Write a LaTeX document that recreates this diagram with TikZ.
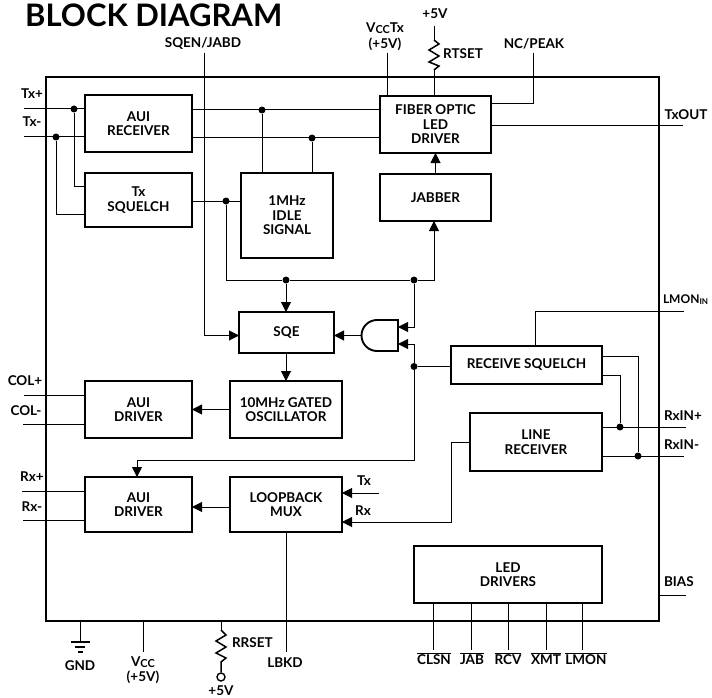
\documentclass[tikz,border=0pt]{standalone}
\usepackage{fontspec}
\setmainfont{Lato}[UprightFont=* Bold]
\usetikzlibrary{arrows.meta,calc}
\newcommand\ovl[1]{\vbox{\hrule height 0.9pt \kern 1.2pt \hbox{#1}}}
\newcommand\smallcaps[1]{{\fontsize{11}{11}\selectfont #1}}
\tikzset{
  x=1pt,y=-1pt,
  lbl/.style={inner sep=0pt,outer sep=0pt,font=\fontsize{13.5}{14.5}\selectfont,align=center},
  blockbox/.style={draw,line width=1.9pt,inner sep=0pt,outer sep=0pt,align=center,font=\fontsize{13.5}{14.5}\selectfont},
  wire/.style={line width=1pt},
  arrowwire/.style={line width=1pt,-{Triangle[length=10pt,width=10pt]}},
  junction/.style={circle,fill=black,inner sep=0pt,minimum size=7pt},
}
\newcommand\blk[6]{%
  \pgfmathsetmacro\bw{#4-#2}\pgfmathsetmacro\bh{#5-#3}%
  \pgfmathsetmacro\bx{(#2+#4)/2}\pgfmathsetmacro\by{(#3+#5)/2}%
  \node[blockbox,minimum width=\bw pt,minimum height=\bh pt] (#1) at (\bx,\by) {#6};}
\newcommand\dotat[3]{\node[junction] (#1) at (#2,#3) {};}
\begin{document}
\begin{tikzpicture}
\useasboundingbox (0,0) rectangle (712,698);
% outer package
\node[draw,line width=1.9pt,inner sep=0pt,outer sep=0pt,minimum width=613pt,minimum height=544pt] (chip) at (352.5,349) {};
% blocks
\blk{auirx}{85}{95}{192}{152}{AUI\\RECEIVER}
\blk{txsq}{85}{173}{192}{227}{Tx\\SQUELCH}
\blk{idle}{241}{173}{333}{258}{1MHz\\IDLE\\SIGNAL}
\blk{fiber}{380}{96}{491}{153}{FIBER OPTIC\\LED\\DRIVER}
\blk{jabber}{380}{174}{491}{221}{JABBER}
\blk{sqe}{239}{312}{334}{353}{SQE}
\blk{osc}{230}{381}{342}{438}{10MHz GATED\\OSCILLATOR}
\blk{coldrv}{85}{381}{192}{438}{AUI\\DRIVER}
\blk{rxdrv}{85}{477}{192}{532}{AUI\\DRIVER}
\blk{mux}{230}{477}{342}{532}{LOOPBACK\\MUX}
\blk{rsq}{451}{346}{602}{384}{RECEIVE SQUELCH}
\blk{linerx}{470}{413}{602}{471}{LINE\\RECEIVER}
\blk{led}{414}{546}{602}{603}{LED\\DRIVERS}
% gate
\draw[line width=1.9pt] (398,320) -- (377,320) arc[start angle=270,end angle=90,radius=15.5] -- (398,351) -- cycle;
\coordinate (gateout) at (361.5,335.5);
\coordinate (gatea) at (398,327);
\coordinate (gateb) at (398,344);
% junctions
\dotat{j1}{74}{109}
\dotat{j2}{56}{137}
\dotat{j3}{262}{110}
\dotat{j4}{312}{138}
\dotat{j5}{226}{201}
\dotat{j6}{286}{280}
\dotat{j7}{414}{280}
\dotat{j8}{414}{366.5}
\dotat{j9}{620}{427}
\dotat{j10}{638}{456}
% free ends
\coordinate (txp) at (24,109);
\coordinate (txm) at (24,137);
\coordinate (sqen) at (204,53);
\coordinate (vcctx) at (387,53);
\coordinate (rt1) at (434,26);
\coordinate (rt2) at (434,40);
\coordinate (rt3) at (434,70);
\coordinate (nc) at (533,53);
\coordinate (txout) at (683,126);
\coordinate (lmonin) at (684,311);
\coordinate (rxinp) at (686,427);
\coordinate (rxinm) at (684,456);
\coordinate (bias) at (686,595);
\coordinate (colp) at (24,395);
\coordinate (colm) at (23,424);
\coordinate (rxp) at (22,491);
\coordinate (rxm) at (23,520);
\coordinate (txin) at (379,493);
\coordinate (rxin) at (342,522);
% left inputs
\draw[wire] (txp) -- (txp -| auirx.west);
\draw[wire] (txm) -- (txm -| auirx.west);
\draw[wire] (j1) -- (74,186) -- (85,186);
\draw[wire] (j2) -- (56,214) -- (85,214);
% AUI receiver to fiber
\draw[wire] (auirx.east |- j3) -- (fiber.west |- j3);
\draw[wire] (auirx.east |- j4) -- (fiber.west |- j4);
\draw[wire] (j3) -- (j3 |- idle.north);
\draw[wire] (j4) -- (j4 |- idle.north);
% SQEN
\draw[arrowwire] (sqen) -- (204,335.5) -- (204,335.5 -| sqe.west);
% squelch
\draw[wire] (txsq.east |- j5) -- (idle.west |- j5);
\draw[wire] (j5) -- (226,280) -- (j6) -- (j7);
\draw[arrowwire] (j7) -- (434,280) -- (434,280 |- jabber.south);
\draw[arrowwire] (j6) -- (j6 |- sqe.north);
\draw[arrowwire] (jabber.north) -- (fiber.south);
% gate connections
\draw[arrowwire] (j7) -- (414,327) -- (gatea);
\draw[arrowwire] (gateout) -- (gateout -| sqe.east);
\draw[arrowwire] (j8) -- (414,344) -- (gateb);
\draw[wire] (j8) -- (j8 -| rsq.west);
\draw[arrowwire] (j8) -- (414,460) -- (137,460) -- (137,460 |- rxdrv.north);
\draw[arrowwire] (sqe.south -| j6) -- (j6 |- osc.north);
\draw[arrowwire] (osc.west) -- (coldrv.east);
\draw[arrowwire] (mux.west |- 0,507) -- (rxdrv.east |- 0,507);
% top pins
\draw[wire] (vcctx) -- (vcctx |- fiber.north);
\draw[wire] (rt1) -- (rt2);
\draw[line width=1.5pt] (rt2) -- (439,44) -- (429,50) -- (439,56) -- (429,62) -- (439,66) -- (rt3);
\draw[wire] (rt3) -- (rt3 |- fiber.north);
\draw[wire] (nc) -- (533,104) -- (491,104);
\draw[wire] (fiber.east |- txout) -- (txout);
% right pins
\draw[wire] (lmonin) -- (535,311) -- (535,346);
\draw[wire] (rsq.east |- 0,356) -- (638,356) -- (j10);
\draw[wire] (rsq.east |- 0,375) -- (620,375) -- (j9);
\draw[wire] (linerx.east |- rxinp) -- (rxinp);
\draw[wire] (linerx.east |- rxinm) -- (rxinm);
\draw[arrowwire] (linerx.west |- 0,442) -- (451,442) -- (451,522) -- (mux.east |- rxin);
\draw[arrowwire] (txin) -- (txin -| mux.east);
\draw[wire] (chip.east |- bias) -- (bias);
% left pins
\draw[wire] (colp) -- (colp -| coldrv.west);
\draw[wire] (colm) -- (colm -| coldrv.west);
\draw[wire] (rxp) -- (rxp -| rxdrv.west);
\draw[wire] (rxm) -- (rxm -| rxdrv.west);
% bottom pins
\draw[wire] (mux.south -| 286,0) -- (286,652);
\coordinate (gnd) at (80,642);
\draw[wire] (gnd |- chip.south) -- (gnd);
\draw[line width=1.4pt] (71,642) -- (90,642) (75,647) -- (85,647) (77.5,652) -- (82.5,652);
\coordinate (vcc) at (143,652);
\draw[wire] (vcc |- chip.south) -- (vcc);
\node[draw,circle,line width=1.4pt,minimum size=8pt,inner sep=0pt] (rrc) at (221,677) {};
\draw[wire] (rrc.north |- chip.south) -- (221,630);
\draw[line width=1.5pt] (221,630) -- (226,635) -- (216,641) -- (226,647) -- (216,653) -- (226,658) -- (221,662) -- (rrc.north);
\foreach \x in {433,471,508,546,582} \draw[wire] (\x,603) -- (\x,650);
% labels
\node[anchor=west,inner sep=0pt,font=\fontsize{31}{31}\selectfont] (title) at (25,15) {BLOCK DIAGRAM};
\node[lbl] (l1) at (203,43.5) {SQEN/JABD};
\node[lbl] (l2) at (32,94) {Tx+};
\node[lbl] (l3) at (32,122) {Tx-};
\node[lbl] (l4) at (385,28) {V\raisebox{-1.5pt}{\smallcaps{CC}}Tx};
\node[lbl] (l5) at (385,44) {(+5V)};
\node[lbl] (l6) at (435,14) {+5V};
\node[lbl] (l7) at (463,54) {RTSET};
\node[lbl] (l8) at (534,44) {NC/PEAK};
\node[lbl] (l9) at (686,115) {TxOUT};
\node[inner sep=0pt,outer sep=0pt,anchor=west,font=\fontsize{12}{14}\selectfont] (l10) at (663,300) {LMON\raisebox{-1pt}{\fontsize{8}{8}\selectfont IN}};
\node[lbl,anchor=west] (l11) at (664,416) {RxIN+};
\node[lbl,anchor=west] (l12) at (664,445) {RxIN-};
\node[lbl,anchor=west] (l13) at (664,582) {BIAS};
\node[lbl] (l14) at (25,381) {COL+};
\node[lbl] (l15) at (26,411) {COL-};
\node[lbl] (l16) at (32,477) {Rx+};
\node[lbl] (l17) at (32,507) {Rx-};
\node[lbl] (l18) at (80,666) {GND};
\node[lbl] (l19) at (143,662) {V\raisebox{-1.5pt}{\smallcaps{CC}}};
\node[lbl] (l20) at (143,677) {(+5V)};
\node[lbl,anchor=west] (l21) at (232,643) {RRSET};
\node[lbl] (l22) at (285,663) {LBKD};
\node[lbl] (l23) at (221,690.5) {+5V};
\node[lbl] (l24) at (364,481) {Tx};
\node[lbl] (l25) at (363,511) {Rx};
\node[lbl] (l26) at (434,659) {\ovl{CLSN}};
\node[lbl] (l27) at (472,659) {\ovl{JAB}};
\node[lbl] (l28) at (508,659) {\ovl{RCV}};
\node[lbl] (l29) at (546,659) {\ovl{XMT}};
\node[lbl] (l30) at (586,659) {\ovl{LMON}};
\end{tikzpicture}
\end{document}
